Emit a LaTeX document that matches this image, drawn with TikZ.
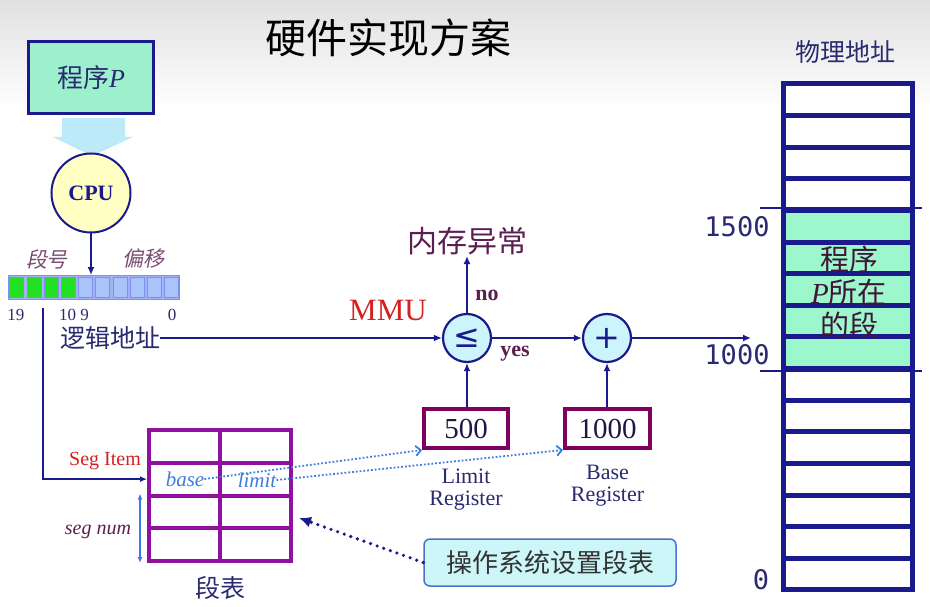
\documentclass[tikz,border=0pt]{standalone}
\usepackage{fontspec}
\setmainfont{Liberation Serif}
\newfontfamily\cjk{Noto Sans CJK SC}
\newfontfamily\cjkit[FakeSlant=0.2]{Noto Sans CJK SC}
\newfontfamily\monofont{DejaVu Sans Mono}
\newfontfamily\symfont{DejaVu Sans}
\usetikzlibrary{arrows.meta,positioning,calc}
\newcommand{\setfs}[1]{\fontsize{#1}{#1}\selectfont}
\definecolor{navy}{HTML}{1A1A8C}
\definecolor{labnavy}{HTML}{2A2A70}
\definecolor{progfill}{HTML}{9CF0CC}
\definecolor{cpufill}{HTML}{FFFFC4}
\definecolor{opfill}{HTML}{CCF4FC}
\definecolor{regpurple}{HTML}{800060}
\definecolor{tabpurple}{HTML}{9010A0}
\definecolor{memgreen}{HTML}{9CF7CC}
\definecolor{txtpurple}{HTML}{5A1E50}
\definecolor{mmured}{HTML}{D42020}
\definecolor{baseblue}{HTML}{3C7CE0}
\definecolor{osfill}{HTML}{CCF6F8}
\definecolor{osedge}{HTML}{5070C8}
\definecolor{bitgreen}{HTML}{22E022}
\definecolor{bitblue}{HTML}{A8C4F8}
\definecolor{bitedge}{HTML}{7F8FF0}
\definecolor{flowblue}{HTML}{BDEAF8}

\begin{document}
\begin{tikzpicture}[x=1pt, y=-1pt,
    progbox/.style={rectangle, draw=navy, line width=2.5pt, fill=progfill, minimum width=125pt,
                    minimum height=72pt, text=labnavy},
    cpu/.style={circle, draw=navy, line width=2pt, fill=cpufill, minimum size=79pt, inner sep=0pt,
                font=\bfseries\setfs{22}, text=navy},
    bit/.style={rectangle, draw=bitedge, line width=0.6pt, minimum width=14pt, minimum height=20pt, inner sep=0pt},
    op/.style={circle, draw=navy, line width=2.2pt, fill=opfill, minimum size=48pt, inner sep=0pt,
               font=\symfont\setfs{32}, text=navy},
    reg/.style={rectangle, draw=regpurple, line width=4pt, minimum width=84pt, minimum height=39pt,
                inner sep=0pt, font=\setfs{29}, text=labnavy!60!black},
    reglab/.style={align=center, inner sep=0pt, font=\setfs{22}, text=labnavy},
    cell/.style={rectangle, draw=tabpurple, line width=4pt, minimum width=71pt, minimum height=32.75pt, inner sep=0pt},
    memrow/.style={rectangle, draw=navy, line width=5pt, minimum width=129pt, minimum height=31.625pt, inner sep=0pt},
    zh/.style={inner sep=0pt, font=\cjk\setfs{#1}},
    arr/.style={-{Latex[length=8pt,width=7pt]}, draw=navy, line width=1.6pt},
    dotarr/.style={-{Straight Barb[length=5pt,width=10pt]}, draw=baseblue, line width=1.8pt, dotted},
    osarr/.style={-{Latex[length=12pt,width=11pt]}, draw=navy, line width=3.6pt, line cap=round,
                  dash pattern=on 0pt off 7pt},
    tick/.style={draw=navy, line width=1.8pt}]
  \useasboundingbox (0,0) rectangle (930,607);
  \shade[top color=black!12, bottom color=white] (0,0) rectangle (930,110);

  \node[zh=41, text=black] (title) at (388,38) {硬件实现方案};

  % program and cpu
  \node[progbox] (prog) at (91,77.5) {{\cjk\setfs{26}程序}{\setfs{26}\itshape P}};
  \fill[flowblue] (62,118) -- (125,118) -- (125,137) -- (133,137) -- (92,156) -- (53,137) -- (62,137) -- cycle;
  \node[cpu] (cpu) at (91,193) {CPU};

  % logical address register
  \node[rectangle, draw=bitedge, fill=bitedge!70, line width=1pt, minimum width=171pt, minimum height=24pt,
        inner sep=0pt] (addr) at (94,287.5) {};
  \foreach \i in {0,...,3}
    \node[bit, fill=bitgreen] (b\i) at (16.6+17.2*\i,287.5) {};
  \foreach \i in {4,...,9}
    \node[bit, fill=bitblue] (b\i) at (16.6+17.2*\i,287.5) {};
  \draw[arr] (cpu.south) -- (cpu.south |- addr.north);
  \node[inner sep=0pt, font=\cjkit\setfs{21}, text=txtpurple!80] (segno) at (47,259) {段号};
  \node[inner sep=0pt, font=\cjkit\setfs{21}, text=txtpurple!80] (offs) at (143,259) {偏移};
  \node[inner sep=0pt, font=\setfs{17}, text=labnavy] (n19) at (16,315) {19};
  \node[inner sep=0pt, font=\setfs{17}, text=labnavy] (n10) at (74,315) {10 9};
  \node[inner sep=0pt, font=\setfs{17}, text=labnavy] (n0) at (172,315) {0};
  \node[zh=25, text=labnavy] (logic) at (110,338) {逻辑地址};

  % mmu
  \node[op] (cmp) at (467,338) {≤};
  \node[op] (plus) at (607,338) {+};
  \node[inner sep=0pt, font=\setfs{31}, text=mmured] (mmu) at (388,311) {MMU};
  \node[zh=30, text=txtpurple] (exc) at (467,241) {内存异常};
  \node[inner sep=0pt, font=\bfseries\setfs{22}, text=txtpurple] (no) at (487,295) {no};
  \node[inner sep=0pt, font=\bfseries\setfs{22}, text=txtpurple] (yes) at (515,354) {yes};
  \coordinate (memin) at (751,338);
  \draw[arr] (logic.east) -- (cmp.west);
  \draw[arr] (cmp.north) -- (cmp.north |- 0,256);
  \draw[arr] (cmp.east) -- (plus.west);
  \draw[arr] (plus.east) -- (memin);

  % registers
  \node[reg] (lim) at (466,428.5) {500};
  \node[reg, minimum width=85pt] (base) at (607.5,428.5) {1000};
  \node[reglab, below=19pt of lim] (limlab) {Limit\\Register};
  \node[reglab, below=15pt of base] (baselab) {Base\\Register};
  \draw[arr] (lim.north -| cmp) -- (cmp.south);
  \draw[arr] (base.north -| plus) -- (plus.south);

  % segment table
  \foreach \r in {0,...,3}
    \foreach \c in {0,1}
      \node[cell] (t\r\c) at (184.5+71*\c,446.4+32.75*\r) {};
  \node[inner sep=0pt, font=\itshape\setfs{21}, text=baseblue] (basetxt) at (185,479) {base};
  \node[inner sep=0pt, font=\itshape\setfs{21}, text=baseblue] (limtxt) at (257,480) {limit};
  \node[inner sep=0pt, font=\setfs{20}, text=mmured] (segitem) at (105,461) {Seg Item};
  \node[inner sep=0pt, font=\itshape\setfs{20}, text=txtpurple] (segnum) at (98,532) {seg num};
  \node[zh=25, text=labnavy] (segtab) at (220,588) {段表};
  \coordinate (tap) at (43,308);
  \draw[arr, -{Latex[length=7pt,width=6pt]}] (tap) |- (t10.west);
  \draw[{Latex[length=6pt,width=5pt]}-{Latex[length=6pt,width=5pt]}, draw=baseblue, line width=1.2pt]
    ([xshift=-7pt]t20.north west) -- ([xshift=-7pt]t30.south west);
  \draw[dotarr] (basetxt.east) -- (lim.south west);
  \draw[dotarr] (limtxt.east) -- (base.south west);

  % os sets the table
  \node[rectangle, rounded corners=6pt, draw=osedge, line width=1.5pt, fill=osfill, minimum width=252pt,
        minimum height=47pt, font=\cjk\setfs{26}, text=black!80] (os) at (550,562.5) {操作系统设置段表};
  \draw[osarr] (os.west) -- ([xshift=6pt,yshift=-6pt]t21.east);

  % physical memory
  \node[zh=25, text=labnavy] (phys) at (845,52) {物理地址};
  \foreach \i in {0,1,2,3,9,10,11,12,13,14,15}
    \node[memrow, fill=white] (m\i) at (848,99.8+31.625*\i) {};
  \foreach \i in {4,...,8}
    \node[memrow, fill=memgreen] (m\i) at (848,99.8+31.625*\i) {};
  \node[align=center, inner sep=0pt, font=\cjk\fontsize{29}{33}\selectfont, text=txtpurple!70!black] (seg) at (849,292)
    {程序\\{\rmfamily\itshape P}所在\\的段};
  \draw[tick] ([xshift=-21pt]m4.north west) -- ([xshift=7pt]m4.north east);
  \draw[tick] ([xshift=-21pt]m8.south west) -- ([xshift=7pt]m8.south east);
  \node[inner sep=0pt, font=\monofont\setfs{27}, text=labnavy] (a1500) at (737,227) {1500};
  \node[inner sep=0pt, font=\monofont\setfs{27}, text=labnavy] (a1000) at (737,355) {1000};
  \node[inner sep=0pt, font=\monofont\setfs{27}, text=labnavy] (a0) at (761,580) {0};
\end{tikzpicture}
\end{document}
